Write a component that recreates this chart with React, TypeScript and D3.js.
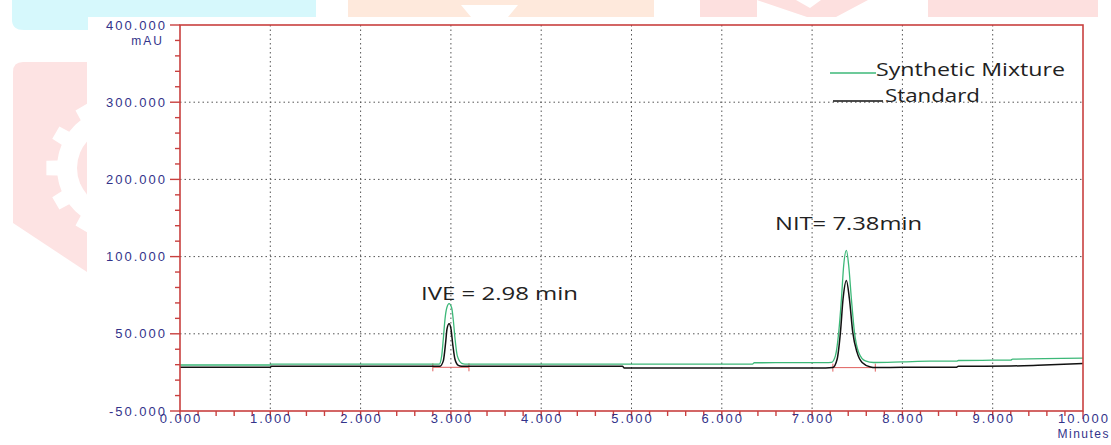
import React from 'react';
import * as d3 from 'd3';

const W = 1111;
const H = 445;

// Axis tick values as printed on the detector axis (mAU) and the time axis (min)
const yTickValues = [-50, 50, 100, 200, 300, 400];
const xTickValues = [0, 1, 2, 3, 4, 5, 6, 7, 8, 9, 10];

// Synthetic Mixture trace: [retention time (min), absorbance (mAU)]
const mixtureTrace: [number, number][] = [
  [0.0, 9.6], [1.0, 9.6], [1.01, 10.6], [2.0, 10.6], [2.8, 10.6], [2.871, 10.8],
  [2.898, 21.4], [2.916, 43.4], [2.935, 59.7], [2.954, 66.7], [2.98, 69.5],
  [3.009, 66.7], [3.027, 58.6], [3.046, 43.4], [3.071, 21.4], [3.12, 11.8],
  [3.156, 10.8], [3.25, 10.6], [5.0, 10.6], [6.34, 10.7], [6.36, 12.5],
  [7.15, 12.6], [7.214, 12.9], [7.258, 21.4], [7.295, 51.1], [7.325, 72.7],
  [7.35, 94.4], [7.38, 108.1], [7.405, 94.4], [7.435, 72.7], [7.469, 51.1],
  [7.516, 25.9], [7.59, 14.9], [7.682, 12.8], [8.0, 13.6], [8.3, 14.5],
  [8.6, 14.6], [8.62, 15.4], [9.0, 15.8], [9.2, 16.0], [9.22, 17.1], [10.0, 18.4],
];

// Standard trace: [retention time (min), absorbance (mAU)]
const standardTrace: [number, number][] = [
  [0.0, 6.6], [1.0, 6.6], [1.01, 7.9], [2.0, 7.9], [2.86, 7.9], [2.879, 8.0],
  [2.916, 14.9], [2.942, 39.1], [2.957, 53.2], [2.98, 56.5], [3.001, 53.2],
  [3.02, 36.8], [3.045, 17.1], [3.082, 9.2], [3.12, 8.0], [3.2, 7.9],
  [4.9, 7.9], [4.92, 5.7], [7.15, 5.7], [7.228, 6.2], [7.277, 17.1],
  [7.314, 51.1], [7.343, 72.7], [7.38, 84.6], [7.413, 72.7], [7.45, 51.1],
  [7.498, 25.9], [7.554, 12.8], [7.647, 7.0], [7.7, 6.2], [8.0, 6.6],
  [8.6, 6.8], [8.62, 7.9], [9.2, 8.3], [9.5, 9.2], [10.0, 11.4],
];

// Peak annotations and integration baselines
const peakLabels = ['IVE = 2.98 min', 'NIT= 7.38min'];
const peakLabelLevels = [72, 135];
const baselineStart = [2.80, 7.23];
const baselineEnd = [3.20, 7.70];
const baselineLevel = [6.6, 6.2];

const seriesNames = ['Synthetic Mixture', 'Standard'];
const seriesColors = ['#3cb878', '#111111'];

const axisRed = '#c9403f';
const labelBlue = '#33338a';

const plot = { left: 180, right: 1083, top: 25, bottom: 411 };

const x = d3.scaleLinear().domain([0, 10]).range([plot.left, plot.right]);
const y = d3
  .scaleLinear()
  .domain(yTickValues)
  .range(yTickValues.map((_, i) => plot.bottom - (i * (plot.bottom - plot.top)) / (yTickValues.length - 1)));

const line = d3
  .line<[number, number]>()
  .x((d) => x(d[0]))
  .y((d) => y(d[1]))
  .curve(d3.curveMonotoneX);

const yMinor: number[] = [];
for (let i = 0; i < yTickValues.length - 1; i++) {
  const a = yTickValues[i];
  const b = yTickValues[i + 1];
  for (let k = 1; k < 5; k++) yMinor.push(a + ((b - a) * k) / 5);
}
const xMinor = d3.range(0, 50).map((i) => i / 5).filter((v) => Math.abs(v - Math.round(v)) > 1e-6);

// Gear outline used in the background emblem
function gearPath(cx: number, cy: number, rOut: number, rIn: number, teeth: number) {
  const p = d3.path();
  const step = (Math.PI * 2) / teeth;
  const half = step * 0.24;
  for (let i = 0; i < teeth; i++) {
    const a = Math.PI + i * step;
    const pts = [
      [a - step / 2 + half * 0.2, rIn],
      [a - half, rIn],
      [a - half * 0.8, rOut],
      [a + half * 0.8, rOut],
      [a + half, rIn],
      [a + step / 2 - half * 0.2, rIn],
    ];
    pts.forEach(([ang, r], j) => {
      const px = cx + r * Math.cos(ang);
      const py = cy + r * Math.sin(ang);
      if (i === 0 && j === 0) p.moveTo(px, py);
      else p.lineTo(px, py);
    });
  }
  p.closePath();
  return p.toString();
}

const tickFont = { fontFamily: 'Liberation Sans, Arial, sans-serif', fontSize: 13, letterSpacing: 2 };
const noteFont = { fontFamily: 'Open Sans, sans-serif', fontSize: 18 };

export default function App() {
  const mixturePath = line(mixtureTrace) ?? '';
  const standardPath = line(standardTrace) ?? '';
  return (
    <svg width={W} height={H} style={{ position: 'absolute', left: 0, top: 0, background: '#fff' }}>
      <defs>
        <clipPath id="emblem-clip">
          <path d="M13,72 Q13,62 23,62 L87,62 L87,272 L13,223 Z" />
        </clipPath>
      </defs>

      {/* background emblem */}
      <g>
        <path d="M12,0 L316,0 L316,17 L88,17 L88,30 L24,30 Q12,30 12,20 Z" fill="#d6f8fc" />
        <path d="M348,0 L654,0 L654,17 L348,17 Z M461,5 L518,5 L508,17 L471,17 Z" fill="#fee9dc" fillRule="evenodd" />
        <path d="M700,0 L757,0 L757,17 L700,17 Z" fill="#fde0df" />
        <path d="M757,0 L868,0 L836,17 L807,17 Z M796,0 L821,0 L810,8 Z" fill="#fde0df" fillRule="evenodd" />
        <path d="M928,0 L1098,0 L1098,17 L928,17 Z" fill="#fde0df" />
        <g clipPath="url(#emblem-clip)">
          <rect x={0} y={55} width={90} height={230} fill="#fde3e3" />
          <path d={gearPath(117, 168, 71, 60, 12)} fill="#ffffff" />
          <circle cx={117} cy={168} r={40} fill="#fde3e3" />
        </g>
      </g>

      {/* grid */}
      <g stroke="#555" strokeWidth={1} strokeDasharray="1.5 3">
        {xTickValues.slice(1, -1).map((v) => (
          <line key={`gx${v}`} x1={x(v)} x2={x(v)} y1={plot.top} y2={plot.bottom} />
        ))}
        {yTickValues.slice(1, -1).map((v) => (
          <line key={`gy${v}`} x1={plot.left} x2={plot.right} y1={y(v)} y2={y(v)} />
        ))}
      </g>

      {/* integration baselines */}
      <g stroke="#e0605e" strokeWidth={1}>
        {baselineStart.map((s, i) => (
          <g key={`bl${i}`}>
            <line x1={x(s)} x2={x(baselineEnd[i])} y1={y(baselineLevel[i])} y2={y(baselineLevel[i])} />
            <line x1={x(s)} x2={x(s)} y1={y(baselineLevel[i]) - 4} y2={y(baselineLevel[i]) + 4} />
            <line x1={x(baselineEnd[i])} x2={x(baselineEnd[i])} y1={y(baselineLevel[i]) - 4} y2={y(baselineLevel[i]) + 4} />
          </g>
        ))}
      </g>

      {/* traces */}
      <path d={mixturePath} fill="none" stroke={seriesColors[0]} strokeWidth={1.3} />
      <path d={standardPath} fill="none" stroke={seriesColors[1]} strokeWidth={1.5} />

      {/* frame */}
      <rect x={plot.left} y={plot.top} width={plot.right - plot.left} height={plot.bottom - plot.top} fill="none" stroke={axisRed} strokeWidth={1.6} />

      {/* axis ticks */}
      <g stroke={axisRed} strokeWidth={1.4}>
        {yTickValues.map((v) => (
          <line key={`yt${v}`} x1={plot.left - 10} x2={plot.left} y1={y(v)} y2={y(v)} />
        ))}
        {yMinor.map((v, i) => (
          <line key={`ym${i}`} x1={plot.left - 5} x2={plot.left} y1={y(v)} y2={y(v)} />
        ))}
        {xTickValues.map((v) => (
          <line key={`xt${v}`} x1={x(v)} x2={x(v)} y1={plot.bottom} y2={plot.bottom + 8} />
        ))}
        {xMinor.map((v, i) => (
          <line key={`xm${i}`} x1={x(v)} x2={x(v)} y1={plot.bottom} y2={plot.bottom + 5} />
        ))}
      </g>

      {/* tick labels */}
      <g fill={labelBlue} style={tickFont}>
        {yTickValues.map((v) => (
          <text key={`yl${v}`} x={plot.left - 13} y={y(v)} dy="0.35em" textAnchor="end">
            {v.toFixed(3)}
          </text>
        ))}
        <text x={plot.left - 16} y={y(400) + 16} dy="0.35em" textAnchor="end" fontSize={12}>mAU</text>
        {xTickValues.map((v) => (
          <text key={`xl${v}`} x={x(v) + 1} y={plot.bottom + 12} textAnchor="middle">
            {v.toFixed(3)}
          </text>
        ))}
        <text x={W - 1} y={plot.bottom + 27} textAnchor="end" fontSize={12} letterSpacing={1.5}>Minutes</text>
      </g>

      {/* peak annotations */}
      <g fill="#222" style={noteFont}>
        {peakLabels.map((t, i) => (
          <text
            key={`pl${i}`}
            x={i === 0 ? 421 : 775}
            y={y(peakLabelLevels[i])}
            textLength={i === 0 ? 157 : 147}
            lengthAdjust="spacingAndGlyphs"
          >
            {t}
          </text>
        ))}
      </g>

      {/* legend */}
      <g style={{ fontFamily: 'Open Sans, sans-serif', fontSize: 19 }}>
        <line x1={830} x2={876} y1={73} y2={73} stroke={seriesColors[0]} strokeWidth={1.3} />
        <text x={876} y={76} fill="#222" textLength={189} lengthAdjust="spacingAndGlyphs">{seriesNames[0]}</text>
        <line x1={833} x2={883} y1={101} y2={101} stroke={seriesColors[1]} strokeWidth={1.3} />
        <text x={885} y={102} fill="#222" textLength={95} lengthAdjust="spacingAndGlyphs">{seriesNames[1]}</text>
      </g>
    </svg>
  );
}
